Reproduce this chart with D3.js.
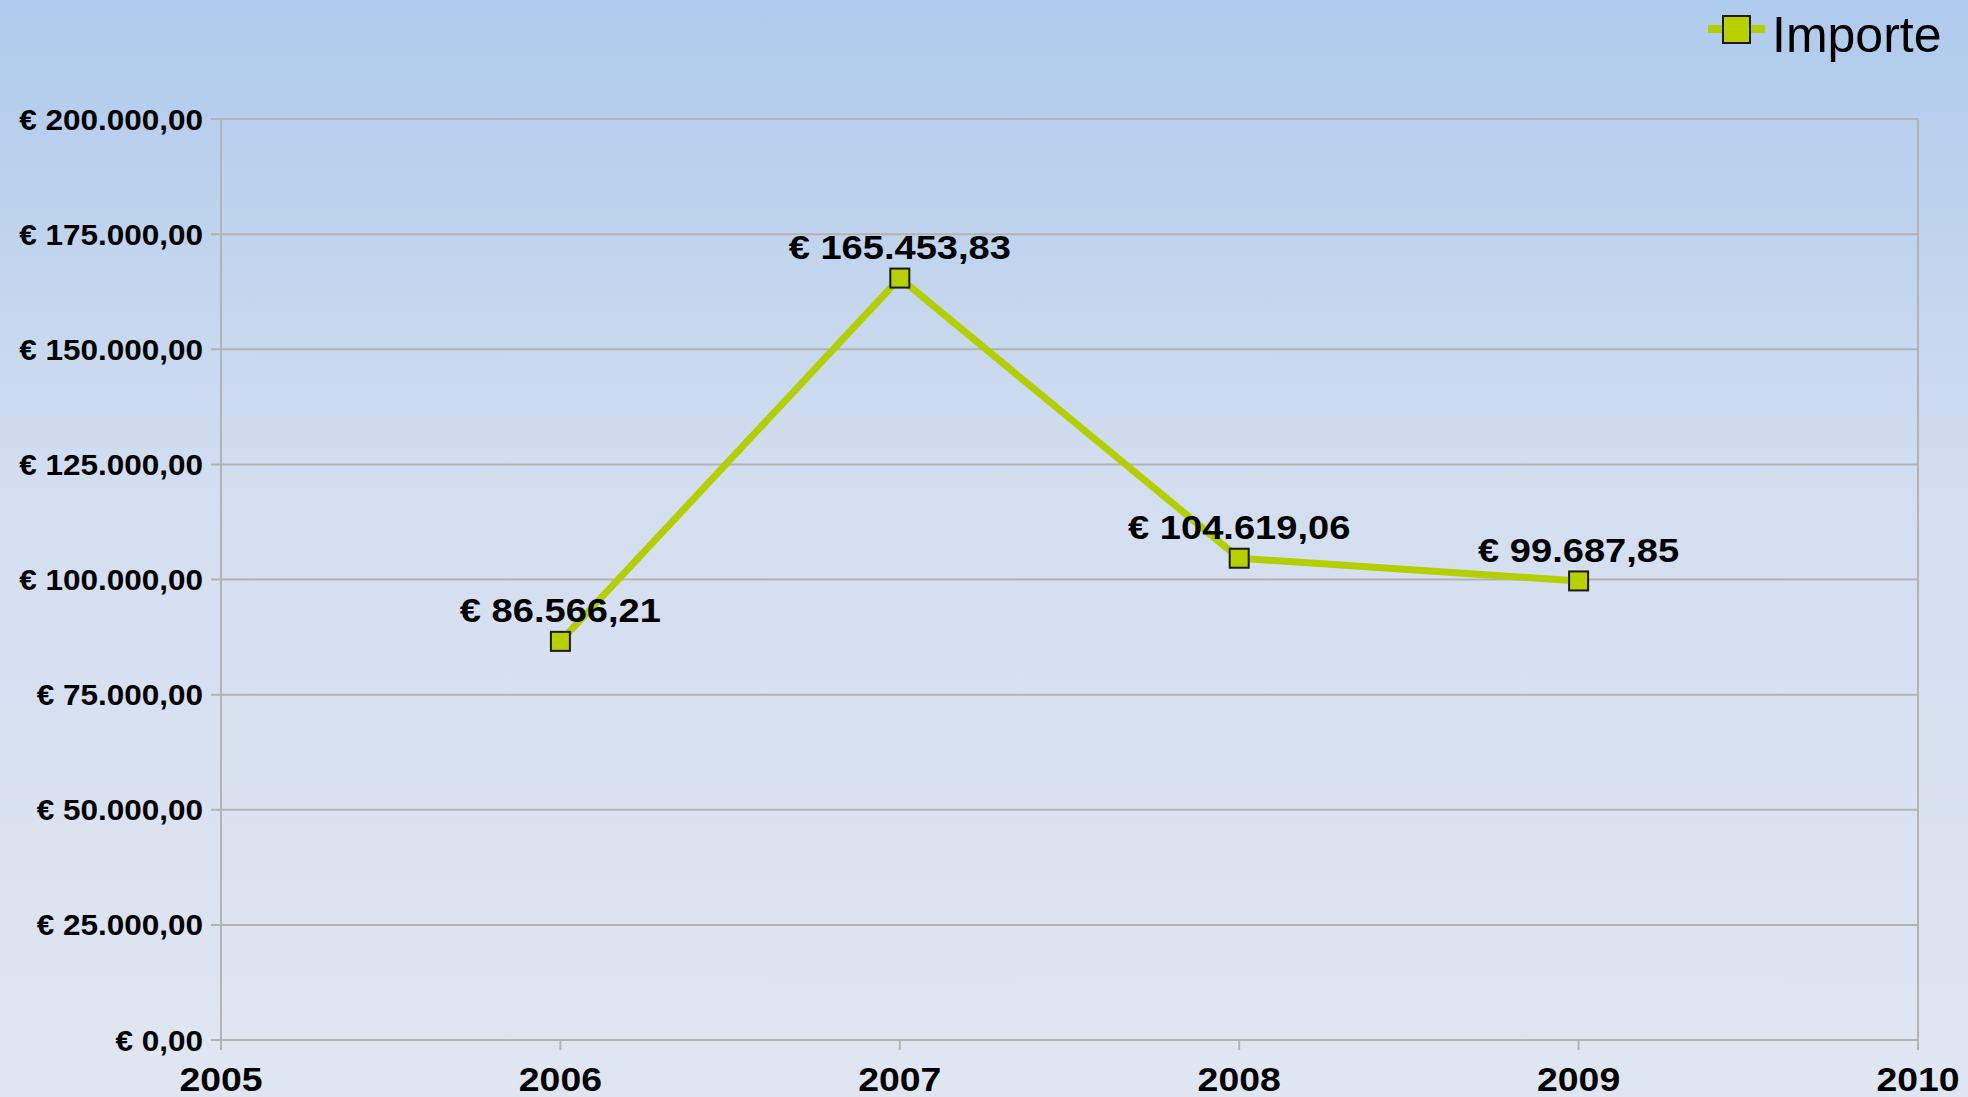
<!DOCTYPE html>
<meta charset="utf-8">
<style>
body { margin: 0; overflow: hidden; }
text { font-family: "Liberation Sans", Arial, sans-serif; fill: #000; }
.grid line { stroke: #b3b3b3; stroke-width: 2px; }
</style>
<body>
<script src="https://d3js.org/d3.v7.min.js"></script>
<script>

// data
var years = [2006, 2007, 2008, 2009];
var importe = [86566.21, 165453.83, 104619.06, 99687.85];
var yTicks = [0, 25000, 50000, 75000, 100000, 125000, 150000, 175000, 200000];
var xTicks = [2005, 2006, 2007, 2008, 2009, 2010];
var seriesName = "Importe";

var W = 1968, H = 1097;
var margin = {top: 119, right: 50, bottom: 57, left: 221},
    width = W - margin.left - margin.right,
    height = H - margin.top - margin.bottom;

// german euro format
var de = d3.formatLocale({decimal: ",", thousands: ".", grouping: [3], currency: ["€ ", ""]});
var fmt = de.format("$,.2f");

var x = d3.scaleLinear().domain([2005, 2010]).range([0, width]);
var y = d3.scaleLinear().domain([0, 200000]).range([height, 0]);

var svg = d3.select("body").append("svg")
    .attr("width", W)
    .attr("height", H);

// background gradient
var grad = svg.append("defs").append("linearGradient")
    .attr("id", "bg").attr("x1", 0).attr("y1", 0).attr("x2", 0).attr("y2", 1);
grad.append("stop").attr("offset", "0%").attr("stop-color", "#aecaec");
grad.append("stop").attr("offset", "45%").attr("stop-color", "#d3def0");
grad.append("stop").attr("offset", "100%").attr("stop-color", "#e0e6f1");
svg.append("rect").attr("width", W).attr("height", H).attr("fill", "url(#bg)");

var g = svg.append("g")
    .attr("transform", "translate(" + margin.left + "," + margin.top + ")");

// horizontal grid + y ticks
var yg = g.append("g").attr("class", "grid");
yg.selectAll("line.h").data(yTicks).enter().append("line")
    .attr("class", "h")
    .attr("x1", -10).attr("x2", width)
    .attr("y1", d => y(d)).attr("y2", d => y(d));

// plot frame verticals
yg.append("line").attr("x1", 0).attr("x2", 0).attr("y1", 0).attr("y2", height + 10);
yg.append("line").attr("x1", width).attr("x2", width).attr("y1", 0).attr("y2", height + 10);

// x ticks
yg.selectAll("line.xt").data(xTicks).enter().append("line")
    .attr("class", "xt")
    .attr("x1", d => x(d)).attr("x2", d => x(d))
    .attr("y1", height).attr("y2", height + 10);

// y labels
g.selectAll("text.yl").data(yTicks).enter().append("text")
    .attr("class", "yl")
    .attr("transform", d => "translate(-18," + (y(d) + 10.5) + ") scale(1.05,1)")
    .attr("text-anchor", "end")
    .style("font-size", "30px")
    .style("font-weight", "bold")
    .text(d => fmt(d));

// x labels
g.selectAll("text.xl").data(xTicks).enter().append("text")
    .attr("class", "xl")
    .attr("transform", d => "translate(" + x(d) + "," + (height + 51) + ") scale(1.1,1)")
    .attr("text-anchor", "middle")
    .style("font-size", "34px")
    .style("font-weight", "bold")
    .text(d => d);

// line
var pts = years.map((d, i) => [d, importe[i]]);
g.append("path")
    .datum(pts)
    .attr("fill", "none")
    .attr("stroke", "#b3cf00")
    .attr("stroke-width", 7)
    .attr("d", d3.line().x(d => x(d[0])).y(d => y(d[1])));

// markers
g.selectAll("rect.m").data(pts).enter().append("rect")
    .attr("class", "m")
    .attr("x", d => x(d[0]) - 9.5).attr("y", d => y(d[1]) - 9.5)
    .attr("width", 19).attr("height", 19)
    .attr("fill", "#b8cf00")
    .attr("stroke", "#1a1a1a").attr("stroke-width", 2);

// data labels
g.selectAll("text.dl").data(pts).enter().append("text")
    .attr("class", "dl")
    .attr("transform", d => "translate(" + x(d[0]) + "," + (y(d[1]) - 19) + ") scale(1.12,1)")
    .attr("text-anchor", "middle")
    .style("font-size", "34px")
    .style("font-weight", "bold")
    .text(d => fmt(d[1]));

// legend
var leg = svg.append("g").attr("transform", "translate(1708,29)");
leg.append("line").attr("x1", 0).attr("x2", 57).attr("y1", 0).attr("y2", 0)
    .attr("stroke", "#b3cf00").attr("stroke-width", 8);
leg.append("rect").attr("x", 15).attr("y", -13).attr("width", 27).attr("height", 27)
    .attr("fill", "#b8cf00").attr("stroke", "#1a1a1a").attr("stroke-width", 2);
leg.append("text").attr("x", 64).attr("y", 23)
    .style("font-size", "50px")
    .text(seriesName);

</script>
</body>
